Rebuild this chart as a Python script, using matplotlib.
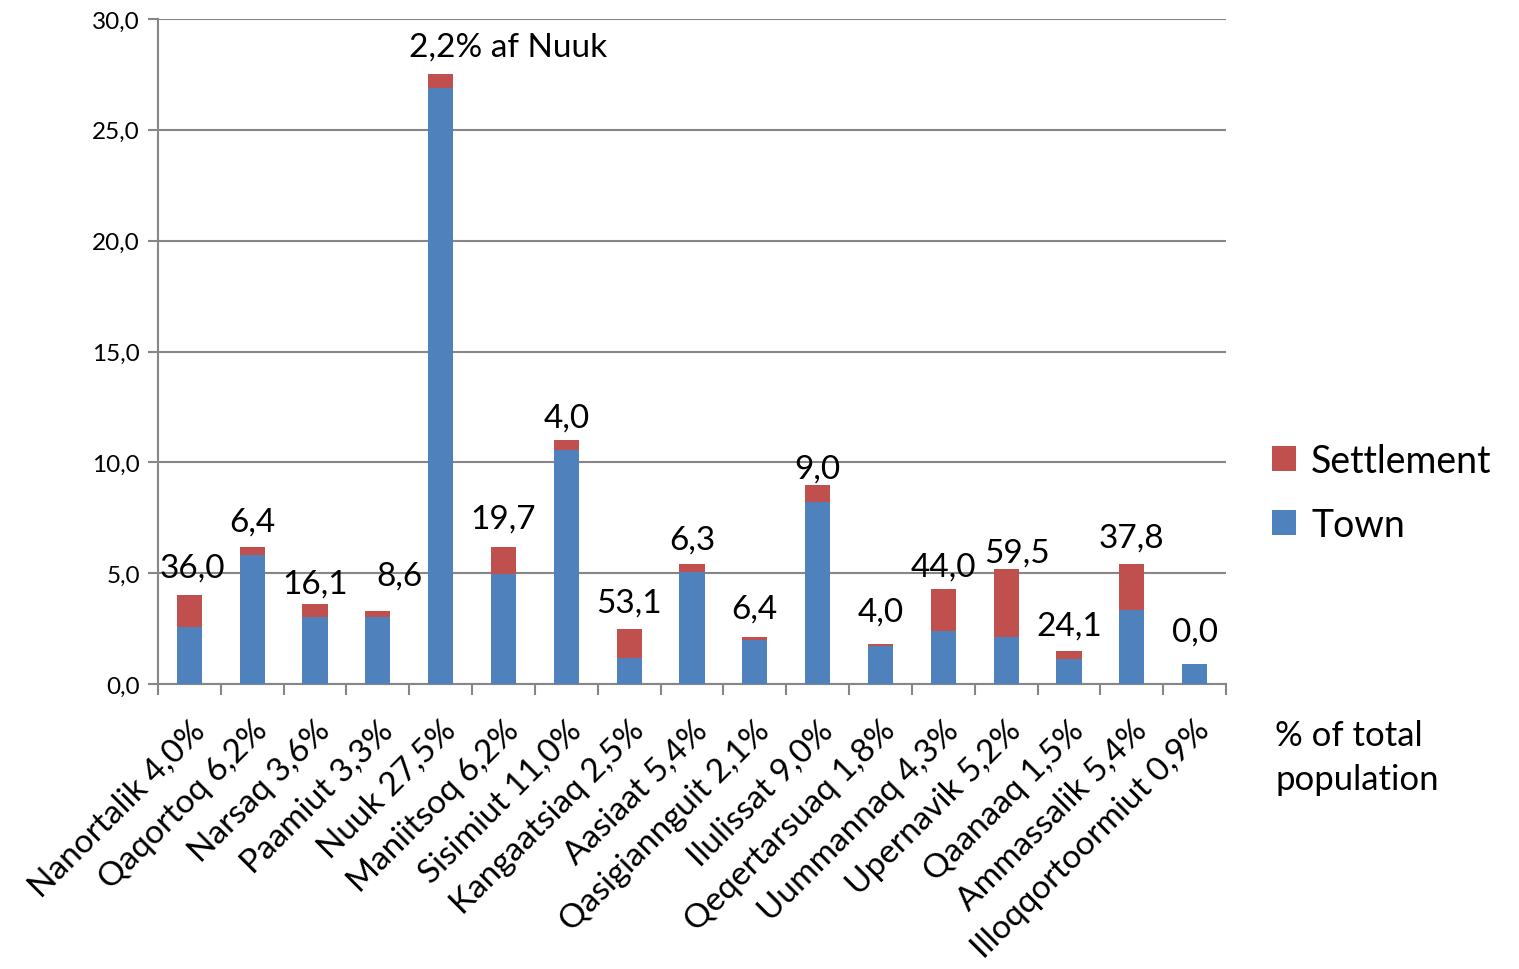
import matplotlib
matplotlib.use("Agg")
import matplotlib.pyplot as plt
import numpy as np

plt.rcParams['font.family'] = ['Lato', 'DejaVu Sans']

# Data: share of total population, split in town and settlement part
places = ["Nanortalik 4,0%", "Qaqortoq 6,2%", "Narsaq 3,6%", "Paamiut 3,3%",
          "Nuuk 27,5%", "Maniitsoq 6,2%", "Sisimiut 11,0%", "Kangaatsiaq 2,5%",
          "Aasiaat 5,4%", "Qasigiannguit 2,1%", "Ilulissat 9,0%",
          "Qeqertarsuaq 1,8%", "Uummannaq 4,3%", "Upernavik 5,2%",
          "Qaanaaq 1,5%", "Ammassalik 5,4%", "Illoqqortoormiut 0,9%"]
town = [2.56, 5.80, 3.02, 3.02, 26.9, 4.98, 10.56, 1.17, 5.06, 1.97, 8.19,
        1.73, 2.41, 2.11, 1.14, 3.36, 0.90]
settlement = [1.44, 0.40, 0.58, 0.28, 0.60, 1.22, 0.44, 1.33, 0.34, 0.13, 0.81,
              0.07, 1.89, 3.09, 0.36, 2.04, 0.0]
labels = ["36,0", "6,4", "16,1", "8,6", "2,2% af Nuuk", "19,7", "4,0", "53,1",
          "6,3", "6,4", "9,0", "4,0", "44,0", "59,5", "24,1", "37,8", "0,0"]

# label offsets in pixels (dx, dy) from bar top
label_off = [(3, 28), (0, 25), (0, 21), (22, 35), (67, 28), (0, 28), (0, 23),
             (0, 26), (0, 25), (0, 29), (0, 16), (0, 33), (0, 22), (11, 16),
             (0, 25), (0, 27), (0, 33)]

blue = "#4F81BD"
red = "#C0504D"
grey = "#868686"

fig = plt.figure(figsize=(15.19, 9.70), dpi=100)
ax = fig.add_axes([158/1519, 1-685/970, (1226-158)/1519, 665/970])

x = np.arange(len(places))
ax.bar(x, town, width=0.4, color=blue, label="Town", zorder=3)
ax.bar(x, settlement, width=0.4, bottom=town, color=red, label="Settlement", zorder=3)

tot = np.array(town) + np.array(settlement)
for i in range(len(places)):
    dx, dy = label_off[i]
    ax.annotate(labels[i], (x[i], tot[i]), xytext=(dx*0.72, dy*0.72),
                textcoords="offset points", ha="center", va="center", fontsize=24)

ax.set_xlim(-0.5, len(places)-0.5)
ax.set_ylim(0, 30)
ax.set_yticks(np.arange(0, 31, 5))
ax.set_yticklabels([("%.1f" % v).replace(".", ",") for v in np.arange(0, 31, 5)], fontsize=17.5)
ax.yaxis.grid(True, color=grey, linewidth=1.5, zorder=0)
ax.set_axisbelow(True)

ax.set_xticks(x)
ax.set_xticklabels(places, rotation=45, ha="right", rotation_mode="anchor",
                   fontsize=24)
ax.tick_params(axis="x", which="major", length=0, pad=22)
ax.set_xticks(np.arange(-0.5, len(places), 1), minor=True)
ax.tick_params(axis="x", which="minor", length=8, width=1.5, color=grey)
ax.tick_params(axis="y", length=7, width=1.5, color=grey, pad=6)

for s in ["top", "right"]:
    ax.spines[s].set_visible(False)
for s in ["left", "bottom"]:
    ax.spines[s].set_color(grey)
    ax.spines[s].set_linewidth(1.5)

h, l = ax.get_legend_handles_labels()
fig.legend(h[::-1], l[::-1], loc="upper left", bbox_to_anchor=(1238/1519, 1-410/970),
           frameon=False, fontsize=27, handlelength=0.65, handleheight=0.65,
           handletextpad=0.4, labelspacing=0.75)

fig.text(1275/1519, 1-720/970, "% of total\npopulation", fontsize=25,
         va="top", ha="left", linespacing=1.45)

fig.savefig("out.png", dpi=100)
